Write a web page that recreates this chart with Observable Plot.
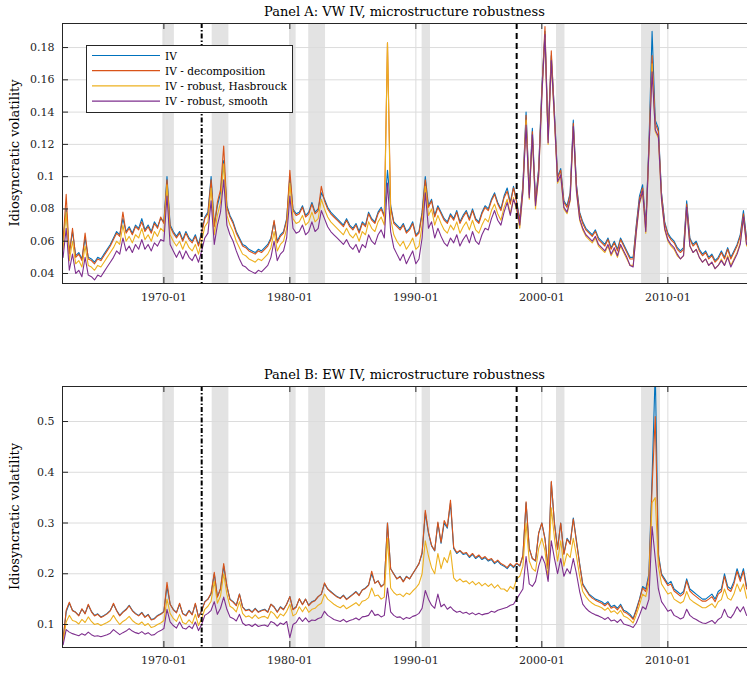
<!DOCTYPE html>
<html><head><meta charset="utf-8">
<script src="https://cdn.jsdelivr.net/npm/d3@7"></script>
<script src="https://cdn.jsdelivr.net/npm/@observablehq/plot@0.6"></script>
<style>
html,body{margin:0;padding:0;background:#fff;overflow:hidden}
svg{display:block}
</style></head><body><div id="chart"></div>
<script>
// ---------- data (quarterly samples: Jan, Apr, Jul, Oct; 1962-01 .. 2016-04) ----------
const seriesNames = ["IV", "IV - decomposition", "IV - robust, Hasbrouck", "IV - robust, smooth"];
const seriesColors = ["#0072BD", "#D95319", "#EDB120", "#7E2F8E"];
const firstMonth = "1962-01";
const lastMonth = "2016-04";

// Panel A: value-weighted IV
const ivA = [
.060,.080,.053,.066, .051,.053,.049,.062, .050,.049,.047,.050, .049,.052,.055,.058,
.062,.066,.064,.074, .066,.069,.065,.070, .068,.074,.067,.070, .066,.072,.069,.074,
.072,.100,.070,.066, .063,.066,.061,.066, .062,.060,.064,.058, .066,.075,.078,.100,
.070,.082,.090,.110, .082,.076,.072,.066, .062,.058,.057,.055, .054,.053,.055,.054,
.056,.058,.062,.072, .060,.064,.066,.074, .100,.080,.077,.078, .082,.076,.078,.084,
.078,.080,.090,.086, .081,.078,.076,.074, .072,.070,.074,.070, .068,.071,.066,.072,
.070,.078,.074,.072, .078,.081,.076,.104, .082,.072,.070,.068, .071,.066,.068,.072,
.064,.066,.078,.100, .082,.086,.076,.082, .078,.074,.072,.077, .074,.079,.072,.076,
.079,.074,.080,.074, .072,.078,.082,.080, .086,.090,.084,.080, .088,.093,.084,.094,
.085,.073,.095,.140, .090,.130,.085,.105, .155,.190,.125,.175, .140,.100,.105,.085,
.082,.090,.135,.095, .078,.072,.068,.066, .064,.067,.062,.060, .058,.062,.056,.060,
.055,.062,.058,.054, .050,.050,.070,.088, .095,.070,.120,.190, .135,.130,.090,.072,
.065,.062,.060,.056, .054,.056,.085,.062, .058,.060,.055,.052, .054,.050,.052,.048,
.050,.054,.050,.056, .050,.054,.058,.064, .079,.062
];
const decA = [
.060,.089,.052,.068, .050,.052,.048,.065, .049,.048,.046,.049, .048,.051,.054,.057,
.061,.065,.063,.078, .065,.068,.064,.069, .067,.072,.066,.069, .065,.071,.068,.075,
.071,.098,.069,.065, .062,.065,.060,.065, .061,.059,.063,.057, .065,.074,.077,.098,
.069,.084,.092,.119, .081,.075,.071,.065, .061,.057,.056,.054, .053,.052,.054,.053,
.055,.057,.061,.073, .059,.063,.065,.073, .104,.079,.076,.077, .081,.075,.077,.083,
.077,.079,.094,.085, .080,.077,.075,.073, .071,.069,.073,.069, .067,.070,.065,.071,
.069,.077,.073,.071, .077,.080,.075,.183, .081,.071,.069,.067, .070,.065,.067,.071,
.063,.065,.077,.098, .081,.085,.075,.081, .077,.073,.071,.076, .073,.078,.071,.075,
.078,.073,.079,.073, .071,.077,.081,.079, .085,.089,.083,.079, .087,.091,.083,.093,
.084,.072,.094,.138, .089,.128,.084,.104, .153,.193,.123,.178, .138,.099,.104,.084,
.081,.089,.133,.094, .077,.071,.067,.065, .063,.066,.061,.059, .057,.061,.055,.059,
.054,.061,.057,.053, .049,.049,.069,.086, .093,.069,.118,.175, .133,.128,.089,.071,
.064,.061,.059,.055, .053,.055,.083,.061, .057,.059,.054,.051, .053,.049,.051,.047,
.049,.053,.049,.055, .049,.053,.057,.063, .077,.061
];
const hasA = [
.055,.078,.048,.060, .046,.048,.044,.057, .045,.044,.042,.045, .044,.047,.050,.053,
.056,.060,.058,.070, .060,.063,.059,.064, .062,.068,.061,.064, .060,.066,.063,.068,
.066,.095,.064,.060, .057,.060,.055,.060, .056,.054,.058,.052, .060,.069,.072,.093,
.064,.076,.084,.108, .076,.070,.066,.060, .056,.052,.051,.049, .048,.047,.049,.048,
.050,.052,.056,.066, .054,.058,.060,.068, .096,.074,.071,.072, .076,.070,.072,.078,
.072,.074,.086,.080, .075,.072,.070,.068, .066,.064,.068,.064, .062,.065,.060,.066,
.064,.072,.068,.066, .072,.075,.070,.183, .074,.064,.060,.057, .060,.055,.058,.062,
.055,.057,.070,.094, .076,.080,.070,.076, .071,.067,.065,.070, .067,.072,.065,.069,
.072,.067,.073,.067, .065,.070,.074,.072, .079,.083,.077,.073, .081,.086,.077,.087,
.079,.068,.090,.135, .086,.125,.080,.100, .150,.186,.120,.170, .134,.096,.100,.080,
.077,.085,.130,.090, .073,.067,.063,.061, .059,.062,.057,.055, .053,.057,.051,.055,
.050,.057,.053,.049, .045,.045,.065,.083, .090,.065,.115,.170, .128,.124,.085,.067,
.060,.057,.055,.051, .049,.051,.080,.057, .053,.055,.050,.047, .049,.045,.047,.043,
.045,.049,.045,.051, .045,.049,.053,.059, .074,.057
];
const smoA = [
.050,.068,.042,.052, .040,.042,.038,.050, .039,.038,.036,.039, .038,.041,.044,.047,
.050,.054,.052,.062, .054,.057,.053,.058, .055,.061,.055,.058, .054,.059,.057,.061,
.060,.088,.058,.054, .050,.054,.049,.054, .050,.048,.052,.047, .054,.062,.065,.085,
.058,.070,.078,.098, .070,.064,.060,.054, .049,.045,.044,.042, .041,.040,.042,.041,
.043,.045,.050,.060, .048,.052,.054,.062, .088,.068,.065,.066, .070,.064,.066,.072,
.066,.068,.079,.074, .069,.066,.064,.062, .060,.058,.061,.057, .055,.058,.053,.058,
.056,.064,.060,.058, .064,.067,.062,.096, .066,.056,.052,.048, .052,.046,.050,.054,
.046,.049,.062,.090, .068,.072,.062,.068, .063,.059,.057,.062, .059,.064,.057,.061,
.064,.059,.066,.060, .058,.064,.068,.067, .074,.079,.073,.070, .078,.084,.076,.086,
.081,.070,.091,.132, .087,.126,.082,.101, .150,.188,.121,.172, .136,.097,.101,.081,
.078,.086,.131,.091, .074,.068,.064,.062, .060,.063,.058,.056, .054,.058,.052,.056,
.051,.058,.054,.050, .045,.044,.066,.084, .091,.066,.116,.165, .129,.125,.086,.068,
.061,.058,.056,.052, .049,.051,.081,.057, .053,.055,.050,.047, .049,.045,.047,.043,
.045,.048,.045,.050, .044,.048,.052,.058, .075,.058
];

// Panel B: equal-weighted IV
const ivB = [
.070,.125,.142,.128, .124,.118,.130,.122, .138,.126,.118,.121, .115,.118,.122,.128,
.140,.128,.118,.125, .130,.138,.128,.122, .118,.124,.115,.120, .110,.112,.118,.121,
.126,.175,.140,.130, .124,.140,.122,.118, .128,.120,.140,.115, .128,.145,.150,.160,
.200,.155,.170,.215, .175,.150,.145,.138, .160,.135,.128,.130, .125,.132,.125,.128,
.130,.125,.140,.135, .125,.135,.130,.140, .155,.130,.135,.150, .140,.150,.138,.145,
.148,.155,.160,.180, .170,.165,.160,.155, .152,.158,.150,.155, .160,.165,.158,.168,
.172,.178,.200,.182, .186,.175,.180,.300, .210,.200,.190,.195, .185,.195,.190,.200,
.210,.220,.240,.320, .280,.255,.245,.300, .260,.300,.290,.340, .250,.240,.245,.238,
.240,.232,.238,.230, .235,.228,.232,.225, .228,.220,.225,.218, .215,.210,.218,.212,
.220,.215,.235,.340, .250,.230,.225,.280, .300,.270,.210,.380, .300,.250,.300,.240,
.270,.260,.310,.265, .220,.180,.170,.160, .155,.150,.148,.145, .140,.145,.135,.138,
.132,.140,.128,.125, .120,.112,.130,.150, .175,.170,.200,.390, .600,.240,.200,.190,
.180,.185,.170,.165, .160,.165,.190,.170, .165,.160,.155,.150, .150,.155,.160,.150,
.165,.170,.200,.175, .170,.185,.210,.190, .210,.175
];
const decB = [
.070,.128,.144,.127, .124,.117,.131,.121, .140,.125,.117,.120, .114,.117,.121,.127,
.142,.127,.117,.124, .129,.137,.127,.121, .117,.123,.114,.119, .109,.111,.117,.120,
.125,.183,.140,.129, .123,.142,.121,.117, .127,.119,.142,.114, .127,.144,.150,.162,
.203,.154,.171,.220, .176,.149,.144,.137, .160,.134,.127,.129, .124,.131,.124,.127,
.129,.124,.140,.134, .124,.134,.129,.140, .155,.129,.134,.151, .139,.150,.137,.144,
.147,.155,.160,.182, .170,.164,.159,.154, .151,.157,.149,.154, .159,.164,.157,.168,
.171,.177,.205,.181, .186,.174,.180,.300, .210,.199,.190,.194, .184,.194,.190,.200,
.210,.220,.242,.325, .282,.256,.246,.302, .262,.305,.292,.345, .252,.242,.246,.240,
.242,.234,.240,.232, .237,.230,.234,.227, .230,.222,.227,.220, .217,.212,.220,.214,
.221,.216,.236,.342, .250,.230,.226,.280, .300,.268,.210,.382, .298,.248,.300,.238,
.268,.258,.308,.262, .218,.178,.168,.158, .152,.148,.145,.142, .137,.142,.132,.135,
.129,.137,.125,.122, .117,.110,.127,.148, .172,.165,.195,.370, .510,.235,.197,.187,
.177,.180,.166,.161, .156,.161,.186,.166, .160,.155,.150,.146, .146,.150,.155,.145,
.160,.165,.195,.170, .165,.180,.205,.185, .205,.170
];
const hasB = [
.065,.105,.118,.108, .106,.101,.110,.104, .115,.106,.100,.102, .098,.101,.104,.108,
.118,.108,.100,.106, .110,.116,.108,.103, .100,.105,.098,.102, .094,.096,.100,.103,
.108,.150,.122,.112, .106,.120,.104,.101, .109,.102,.120,.098, .112,.130,.136,.146,
.185,.142,.156,.200, .160,.136,.132,.125, .145,.122,.115,.117, .112,.119,.112,.115,
.116,.112,.126,.121, .112,.121,.117,.126, .140,.117,.121,.135, .125,.135,.124,.130,
.132,.138,.142,.160, .150,.145,.140,.136, .133,.138,.131,.135, .139,.143,.137,.146,
.148,.153,.172,.156, .158,.150,.154,.270, .172,.163,.158,.160, .155,.162,.159,.166,
.172,.180,.200,.265, .235,.212,.200,.240, .210,.232,.222,.246, .192,.185,.190,.184,
.186,.180,.185,.178, .183,.176,.181,.175, .180,.172,.178,.170, .170,.165,.175,.170,
.190,.195,.215,.300, .225,.210,.205,.250, .270,.245,.190,.330, .270,.225,.265,.215,
.240,.232,.270,.235, .195,.165,.155,.147, .142,.138,.136,.133, .128,.133,.124,.127,
.121,.128,.117,.114, .109,.103,.119,.138, .160,.155,.182,.340, .350,.215,.180,.170,
.160,.163,.150,.146, .142,.146,.165,.150, .145,.141,.137,.133, .133,.137,.141,.133,
.145,.149,.170,.152, .148,.160,.180,.165, .180,.152
];
const smoB = [
.060,.090,.085,.082, .080,.078,.082,.079, .085,.080,.077,.078, .076,.078,.080,.083,
.090,.085,.080,.084, .087,.092,.087,.084, .082,.086,.081,.084, .079,.080,.085,.088,
.092,.130,.105,.098, .093,.105,.093,.091, .097,.092,.105,.088, .100,.118,.122,.128,
.145,.120,.132,.154, .130,.115,.112,.107, .120,.103,.098,.100, .096,.101,.096,.098,
.099,.096,.106,.103, .097,.103,.100,.106, .074,.100,.104,.114, .106,.113,.105,.109,
.108,.112,.114,.126, .118,.114,.110,.108, .106,.110,.105,.108, .110,.113,.109,.115,
.116,.118,.128,.118, .120,.115,.118,.172, .125,.118,.114,.115, .110,.114,.112,.116,
.118,.122,.132,.167, .150,.138,.132,.160, .135,.140,.130,.135, .128,.124,.126,.122,
.124,.120,.123,.119, .122,.119,.121,.122, .126,.124,.128,.130, .132,.134,.138,.140,
.150,.160,.170,.234, .180,.175,.185,.215, .235,.220,.185,.265, .230,.200,.230,.195,
.210,.200,.230,.200, .165,.140,.132,.126, .122,.119,.117,.114, .110,.114,.107,.109,
.104,.110,.101,.099, .097,.094,.103,.118, .135,.130,.150,.293, .230,.170,.145,.136,
.126,.129,.118,.115, .111,.114,.130,.118, .113,.110,.106,.103, .102,.105,.108,.102,
.110,.114,.130,.116, .113,.122,.135,.125, .135,.118
];

const recessions = [["1969-12","1970-11"],["1973-11","1975-03"],["1980-01","1980-07"],["1981-07","1982-11"],["1990-07","1991-03"],["2001-03","2001-11"],["2007-12","2009-06"]];
const breakMonths = ["1973-01", "1998-01"];
const xTickLabels = ["1970-01","1980-01","1990-01","2000-01","2010-01"];
const yTicksA = [0.04,0.06,0.08,0.1,0.12,0.14,0.16,0.18];
const yTicksB = [0.1,0.2,0.3,0.4,0.5];
const titleA = "Panel A: VW IV, microstructure robustness";
const titleB = "Panel B: EW IV, microstructure robustness";
const yLabel = "Idiosyncratic volatility";

// ---------- helpers ----------
const pm = d3.utcParse("%Y-%m");
const dates = d3.utcMonth.every(3).range(pm(firstMonth), d3.utcMonth.offset(pm(lastMonth), 1));
const xDomain = [new Date(Date.UTC(1961, 11, 15)), new Date(Date.UTC(2016, 3, 28))];
const xTicks = xTickLabels.map(pm);
const recRows = recessions.map(([a, b]) => ({start: pm(a), end: pm(b)}));
const breakDates = breakMonths.map(pm);
const FONT = "'DejaVu Serif', serif";
const INK = "#262626";
const W = 747, ML = 62;

function panel({series, yDomain, yTicks, height, marginTop, marginBottom, title, tickPad}) {
  const plotH = height - marginTop - marginBottom;
  const plotW = W - ML;
  const rows = [];
  series.forEach((vals, k) => vals.forEach((v, i) => { if (i < dates.length) rows.push({date: dates[i], value: v, series: seriesNames[k]}); }));
  const svg = Plot.plot({
    width: W, height, marginLeft: ML, marginRight: 0, marginTop, marginBottom,
    style: {fontFamily: FONT, fontSize: "11px", background: "#fff", color: INK, overflow: "visible"},
    x: {type: "utc", domain: xDomain, ticks: xTicks, tickFormat: d3.utcFormat("%Y-%m"), tickSize: 0, tickPadding: tickPad, label: null},
    y: {domain: yDomain, ticks: yTicks, tickFormat: d => String(+d.toFixed(2)), tickSize: 0, tickPadding: 8, label: null},
    color: {domain: seriesNames, range: seriesColors},
    marks: [
      Plot.rect(recRows, {x1: "start", x2: "end", fill: "#e3e3e3"}),
      Plot.ruleX(xTicks, {stroke: "#dcdcdc", strokeWidth: 1}),
      Plot.ruleY(yTicks, {stroke: "#dcdcdc", strokeWidth: 1}),
      Plot.line(rows, {x: "date", y: "value", z: "series", stroke: "series", strokeWidth: 1.1, clip: true}),
      Plot.ruleX([breakDates[0]], {stroke: "#000", strokeWidth: 2, strokeDasharray: "5,2,1.5,2"}),
      Plot.ruleX([breakDates[1]], {stroke: "#000", strokeWidth: 2, strokeDasharray: "6,4"}),
      Plot.ruleX(xTicks, {stroke: INK, insetTop: plotH - 6}),
      Plot.ruleX(xTicks, {stroke: INK, insetBottom: plotH - 6}),
      Plot.ruleY(yTicks, {stroke: INK, insetRight: plotW - 6}),
      Plot.ruleX([xDomain[0]], {stroke: INK, strokeWidth: 1}),
      Plot.ruleY([yDomain[0]], {stroke: INK, strokeWidth: 1}),
      Plot.ruleY([yDomain[1]], {stroke: INK, strokeWidth: 1})
    ]
  });
  const s = d3.select(svg);
  s.append("text").attr("x", ML + plotW / 2).attr("y", marginTop - 7)
    .attr("text-anchor", "middle").attr("font-family", FONT).attr("font-size", 13).attr("fill", "#000").text(title);
  const cy = marginTop + plotH / 2;
  s.append("text").attr("transform", `translate(19,${cy}) rotate(-90)`)
    .attr("text-anchor", "middle").attr("font-family", FONT).attr("font-size", 13).attr("fill", "#000").text(yLabel);
  return svg;
}

const svgA = panel({series: [ivA, decA, hasA, smoA], yDomain: [0.0338, 0.1949], yTicks: yTicksA,
  height: 340, marginTop: 23, marginBottom: 57, title: titleA, tickPad: 10});
// legend
const lg = d3.select(svgA).append("g").attr("font-family", FONT).attr("font-size", 10.6).attr("text-anchor", "start");
lg.append("rect").attr("x", 86.5).attr("y", 45.5).attr("width", 206).attr("height", 67)
  .attr("fill", "#fff").attr("stroke", INK).attr("stroke-width", 1);
seriesNames.forEach((n, i) => {
  const y = 55.5 + i * 15.2;
  lg.append("line").attr("x1", 92).attr("x2", 160).attr("y1", y).attr("y2", y)
    .attr("stroke", seriesColors[i]).attr("stroke-width", 1.2);
  lg.append("text").attr("x", 165).attr("y", y + 4).attr("fill", "#000").attr("text-anchor", "start").text(n);
});

const svgB = panel({series: [ivB, decB, hasB, smoB], yDomain: [0.0547, 0.569], yTicks: yTicksB,
  height: 333, marginTop: 46, marginBottom: 26, title: titleB, tickPad: 9});

const root = document.getElementById("chart");
root.appendChild(svgA);
root.appendChild(svgB);
</script></body></html>
